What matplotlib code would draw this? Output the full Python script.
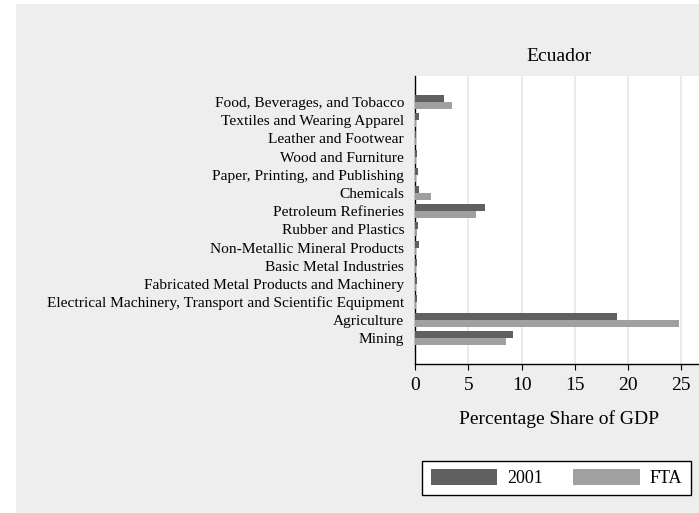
import matplotlib
matplotlib.use("Agg")
import matplotlib.pyplot as plt
from matplotlib.patches import Rectangle
import numpy as np

categories = [
    "Food, Beverages, and Tobacco",
    "Textiles and Wearing Apparel",
    "Leather and Footwear",
    "Wood and Furniture",
    "Paper, Printing, and Publishing",
    "Chemicals",
    "Petroleum Refineries",
    "Rubber and Plastics",
    "Non-Metallic Mineral Products",
    "Basic Metal Industries",
    "Fabricated Metal Products and Machinery",
    "Electrical Machinery, Transport and Scientific Equipment",
    "Agriculture",
    "Mining",
]
share_2001 = [2.67, 0.35, 0.05, 0.13, 0.28, 0.35, 6.6, 0.28, 0.35, 0.13, 0.2, 0.2, 19.0, 9.18]
share_fta = [3.41, 0.03, 0.02, 0.05, 0.1, 1.5, 5.7, 0.2, 0.05, 0.03, 0.05, 0.05, 24.8, 8.5]
series_labels = ["2001", "FTA"]
xticks = [0, 5, 10, 15, 20, 25]
title = "Ecuador"
xlabel = "Percentage Share of GDP"

plt.rcParams['font.family'] = ['Liberation Serif', 'DejaVu Serif']

W, H = 699, 513
fig = plt.figure(figsize=(W / 100, H / 100), dpi=100, facecolor="white")
fig.patches.append(Rectangle((16 / W, 0), 1 - 16 / W, (H - 4) / H,
                             transform=fig.transFigure, facecolor="#eeeeee",
                             edgecolor="none", zorder=-10))

left, right, top, bottom = 415.3, 702.3, 76, 364.3
ax = fig.add_axes([left / W, (H - bottom) / H, (right - left) / W, (bottom - top) / H])
ax.set_facecolor("white")

y = np.arange(len(categories))
bh = 0.385
ax.barh(y - bh / 2, share_2001, height=bh, color="#606060", label=series_labels[0], zorder=3)
ax.barh(y + bh / 2, share_fta, height=bh, color="#a0a0a0", label=series_labels[1], zorder=3)

ax.set_ylim(len(categories) - 1 + 1.42, -1.43)
ax.set_xlim(0, 27)
ax.set_yticks(y)
ax.set_yticklabels(categories, fontsize=11.1)
ax.tick_params(axis="y", length=0, pad=8)
ax.set_xticks(xticks)
ax.tick_params(axis="x", length=4, width=0.8, labelsize=14, pad=5)
ax.xaxis.grid(True, color="#e6e6e6", linewidth=1.2, zorder=0)
ax.set_axisbelow(True)
for s in ["top", "right"]:
    ax.spines[s].set_visible(False)
for s in ["left", "bottom"]:
    ax.spines[s].set_linewidth(1.0)
    ax.spines[s].set_color("black")

ax.set_title(title, fontsize=14, pad=11)
ax.set_xlabel(xlabel, fontsize=14, labelpad=12)

leg = fig.legend(ncol=2, loc="center", bbox_to_anchor=((422 + 691) / 2 / W, 1 - 478 / H),
                 fontsize=13, frameon=True, fancybox=False, edgecolor="black",
                 framealpha=1.0,
                 handlelength=3.7, handleheight=0.95, handletextpad=0.55,
                 columnspacing=1.66, borderpad=0.45)
leg.get_frame().set_linewidth(1.0)
leg.get_frame().set_facecolor("white")

fig.savefig("out.png", dpi=100, facecolor="white")
